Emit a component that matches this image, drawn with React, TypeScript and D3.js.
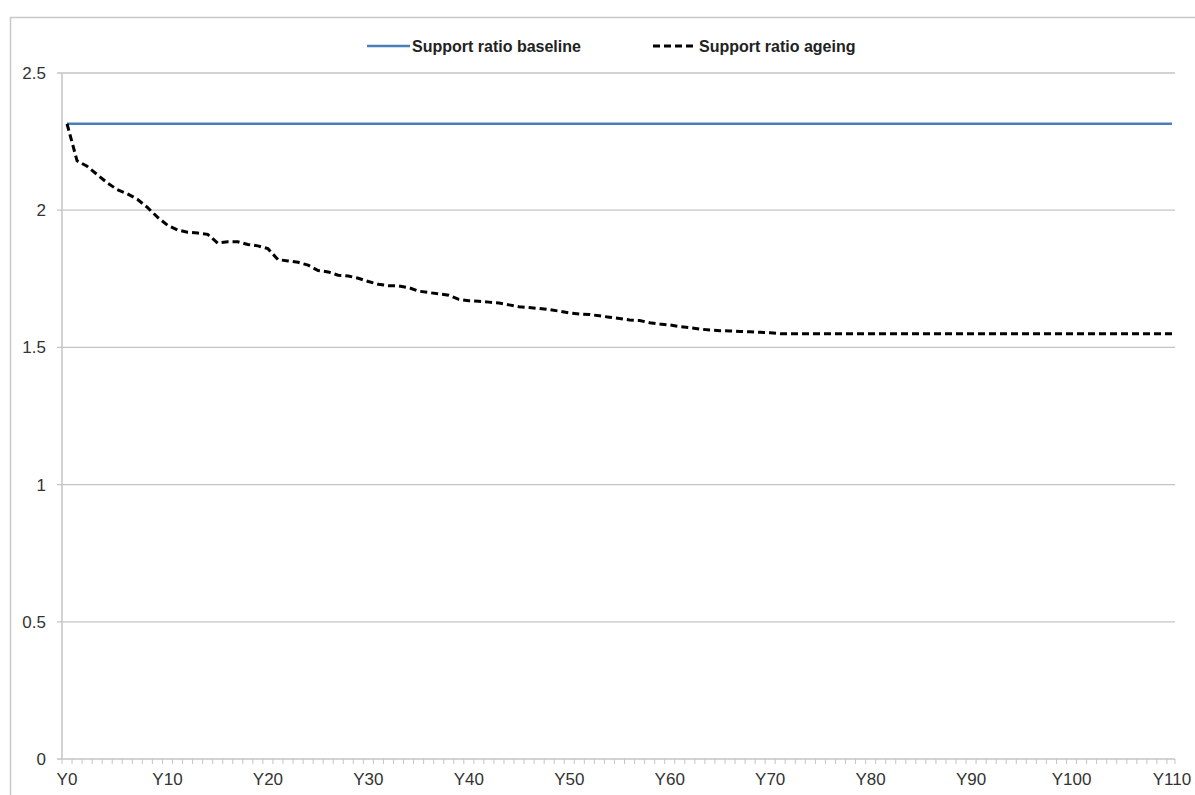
import React from 'react';
import * as d3 from 'd3';

// categories Y0..Y110
const years = Array.from({ length: 111 }, (_, i) => `Y${i}`);

const baseline = [
  2.315, 2.315, 2.315, 2.315, 2.315, 2.315, 2.315, 2.315, 2.315, 2.315,
  2.315, 2.315, 2.315, 2.315, 2.315, 2.315, 2.315, 2.315, 2.315, 2.315,
  2.315, 2.315, 2.315, 2.315, 2.315, 2.315, 2.315, 2.315, 2.315, 2.315,
  2.315, 2.315, 2.315, 2.315, 2.315, 2.315, 2.315, 2.315, 2.315, 2.315,
  2.315, 2.315, 2.315, 2.315, 2.315, 2.315, 2.315, 2.315, 2.315, 2.315,
  2.315, 2.315, 2.315, 2.315, 2.315, 2.315, 2.315, 2.315, 2.315, 2.315,
  2.315, 2.315, 2.315, 2.315, 2.315, 2.315, 2.315, 2.315, 2.315, 2.315,
  2.315, 2.315, 2.315, 2.315, 2.315, 2.315, 2.315, 2.315, 2.315, 2.315,
  2.315, 2.315, 2.315, 2.315, 2.315, 2.315, 2.315, 2.315, 2.315, 2.315,
  2.315, 2.315, 2.315, 2.315, 2.315, 2.315, 2.315, 2.315, 2.315, 2.315,
  2.315, 2.315, 2.315, 2.315, 2.315, 2.315, 2.315, 2.315, 2.315, 2.315,
  2.315,
];

const ageing = [
  2.315, 2.18, 2.16, 2.13, 2.1, 2.075, 2.06, 2.04, 2.01, 1.975,
  1.945, 1.928, 1.92, 1.917, 1.912, 1.88, 1.885, 1.885, 1.875, 1.87,
  1.86, 1.82, 1.815, 1.81, 1.8, 1.78, 1.775, 1.763, 1.76, 1.752,
  1.74, 1.73, 1.725, 1.724, 1.718, 1.705, 1.7, 1.695, 1.69, 1.675,
  1.67, 1.668, 1.665, 1.662, 1.655, 1.648, 1.645, 1.642, 1.638, 1.632,
  1.626, 1.622, 1.62, 1.615, 1.61, 1.605, 1.6, 1.598, 1.59, 1.585,
  1.582, 1.576, 1.572, 1.567, 1.563, 1.561, 1.56, 1.558, 1.557, 1.555,
  1.553, 1.55, 1.55, 1.55, 1.55, 1.55, 1.55, 1.55, 1.55, 1.55,
  1.55, 1.55, 1.55, 1.55, 1.55, 1.55, 1.55, 1.55, 1.55, 1.55,
  1.55, 1.55, 1.55, 1.55, 1.55, 1.55, 1.55, 1.55, 1.55, 1.55,
  1.55, 1.55, 1.55, 1.55, 1.55, 1.55, 1.55, 1.55, 1.55, 1.55,
  1.55,
];

const yTicks = [0, 0.5, 1, 1.5, 2, 2.5];
const xLabels = ['Y0', 'Y10', 'Y20', 'Y30', 'Y40', 'Y50', 'Y60', 'Y70', 'Y80', 'Y90', 'Y100', 'Y110'];

const W = 1195;
const H = 795;
const left = 62;
const right = 1177;
const top = 73;
const bottom = 759;
const font = '"Liberation Sans", Arial, sans-serif';

export default function App() {
  const x = d3.scaleBand<string>().domain(years).range([left, right]).padding(0);
  const y = d3.scaleLinear().domain([0, 2.5]).range([bottom, top]);
  const cx = (d: string) => (x(d) as number) + x.bandwidth() / 2;

  const line = d3
    .line<number>()
    .x((_, i) => cx(years[i]))
    .y((v) => y(v));

  return (
    <svg
      width={W}
      height={H}
      style={{ position: 'absolute', left: 0, top: 0, background: '#fff' }}
      fontFamily={font}
    >
      <rect x={10.5} y={17.5} width={1300} height={900} fill="#fff" stroke="#c8c8c8" strokeWidth={1.5} />

      {/* gridlines + y ticks */}
      {yTicks.map((t) => (
        <g key={t}>
          <line x1={left - 5} x2={right - 2} y1={y(t)} y2={y(t)} stroke="#c4c4c4" strokeWidth={1.3} />
          <text x={46} y={y(t)} dy="0.35em" textAnchor="end" fontSize={17} fill="#333">
            {t}
          </text>
        </g>
      ))}

      {/* y axis */}
      <line x1={left} x2={left} y1={top} y2={bottom} stroke="#c4c4c4" strokeWidth={1.5} />

      {/* x axis ticks */}
      {years.map((d) => (
        <line key={d} x1={(x(d) as number)} x2={(x(d) as number)} y1={bottom} y2={bottom + 5} stroke="#c4c4c4" strokeWidth={1} />
      ))}
      <line x1={right - 2} x2={right - 2} y1={bottom} y2={bottom + 5} stroke="#c4c4c4" strokeWidth={1} />
      {xLabels.map((d) => (
        <text key={d} x={cx(d)} y={785} textAnchor="middle" fontSize={17} fill="#333">
          {d}
        </text>
      ))}

      {/* series */}
      <path d={line(baseline) as string} fill="none" stroke="#4a7ebb" strokeWidth={2.5} />
      <path d={line(ageing) as string} fill="none" stroke="#000" strokeWidth={3} strokeDasharray="7,4" />

      {/* legend */}
      <line x1={367} x2={410} y1={46} y2={46} stroke="#4a7ebb" strokeWidth={2.5} />
      <text x={412} y={46} dy="0.35em" fontSize={16} fontWeight="bold" fill="#222">
        Support ratio baseline
      </text>
      <line x1={653} x2={697} y1={46} y2={46} stroke="#000" strokeWidth={3} strokeDasharray="7,4" />
      <text x={699} y={46} dy="0.35em" fontSize={16} fontWeight="bold" fill="#222">
        Support ratio ageing
      </text>
    </svg>
  );
}
